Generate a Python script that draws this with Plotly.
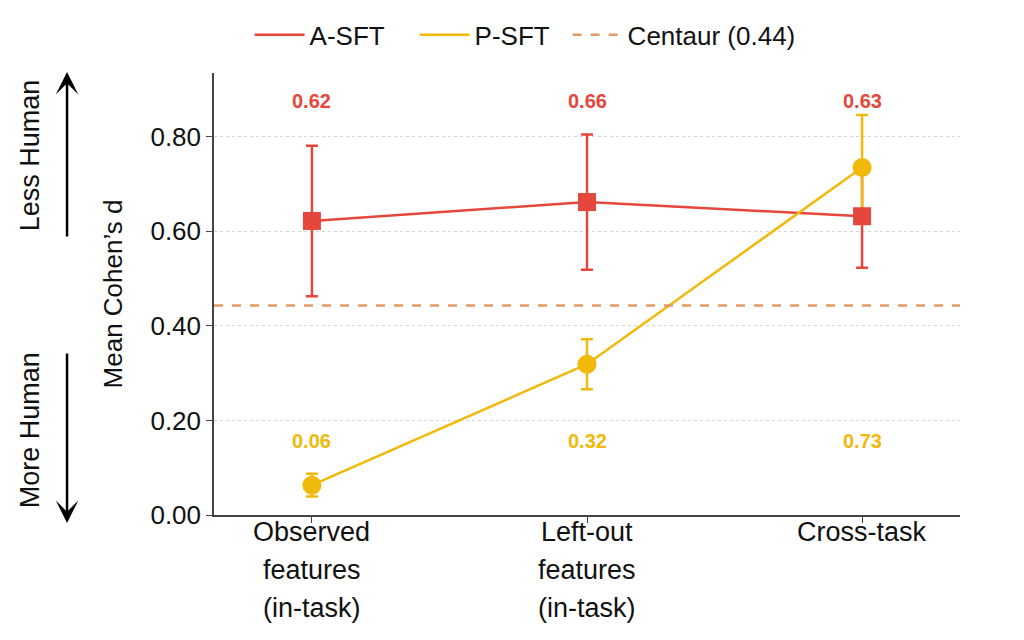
import plotly.graph_objects as go

categories = ['Observed features (in-task)', 'Left-out features (in-task)', 'Cross-task']
cat_lines = [['Observed', 'features', '(in-task)'], ['Left-out', 'features', '(in-task)'], ['Cross-task']]

a_sft = [0.622, 0.662, 0.632]
a_sft_err = [0.159, 0.143, 0.109]
p_sft = [0.063, 0.319, 0.735]
p_sft_err = [0.024, 0.053, 0.111]
centaur = 0.443

a_labels = ['0.62', '0.66', '0.63']
p_labels = ['0.06', '0.32', '0.73']

RED = '#E5473C'
YEL = '#F0B90B'
ORA = '#E39A66'
FONT = 'Liberation Sans'
TXT = '#111111'

xs = list(range(len(categories)))

fig = go.Figure()
# A-SFT line + error bars (markers re-drawn on top later)
fig.add_trace(go.Scatter(
    x=xs, y=a_sft, name='A-SFT', mode='lines',
    line=dict(color=RED, width=2.5),
    error_y=dict(type='data', array=a_sft_err, color=RED, thickness=2.5, width=6),
    showlegend=False,
))
fig.add_trace(go.Scatter(
    x=xs, y=p_sft, name='P-SFT', mode='lines+markers',
    line=dict(color=YEL, width=2.5),
    marker=dict(symbol='circle', size=19, color=YEL),
    error_y=dict(type='data', array=p_sft_err, color=YEL, thickness=2.5, width=6),
    showlegend=False,
))
fig.add_trace(go.Scatter(
    x=xs, y=a_sft, name='A-SFT', mode='markers',
    marker=dict(symbol='square', size=18, color=RED),
    showlegend=False,
))
fig.add_trace(go.Scatter(
    x=[-0.356, 2.356], y=[centaur, centaur], mode='lines', name='Centaur',
    line=dict(color=ORA, width=2.5, dash='dash'), showlegend=False,
))

# legend entries (line-only samples)
fig.add_trace(go.Scatter(x=[None], y=[None], mode='lines', name='A-SFT', legendwidth=100,
                         line=dict(color=RED, width=2.5)))
fig.add_trace(go.Scatter(x=[None], y=[None], mode='lines', name='P-SFT', legendwidth=88,
                         line=dict(color=YEL, width=2.5)))
fig.add_trace(go.Scatter(x=[None], y=[None], mode='lines', name='Centaur (%.2f)' % centaur,
                         line=dict(color=ORA, width=2.5, dash='dash')))

annotations = []
for i in xs:
    annotations.append(dict(x=i, y=0.876, xref='x', yref='y', text='<b>%s</b>' % a_labels[i],
                            showarrow=False, font=dict(family=FONT, size=20, color=RED)))
    annotations.append(dict(x=i, y=0.157, xref='x', yref='y', text='<b>%s</b>' % p_labels[i],
                            showarrow=False, font=dict(family=FONT, size=20, color=YEL)))
    for j, line in enumerate(cat_lines[i]):
        annotations.append(dict(x=i, y=0.0 - j * 0.086, xref='x', yref='paper', text=line,
                                showarrow=False, yanchor='top',
                                font=dict(family=FONT, size=27, color=TXT)))

# side arrows
annotations.append(dict(x=-0.197, y=1.002, ax=0, ay=166, xref='paper', yref='paper',
                        showarrow=True, arrowhead=3, arrowsize=1.5,
                        arrowwidth=2.5, arrowcolor='black', text=''))
annotations.append(dict(x=-0.197, y=-0.018, ax=0, ay=-171, xref='paper', yref='paper',
                        showarrow=True, arrowhead=3, arrowsize=1.5,
                        arrowwidth=2.5, arrowcolor='black', text=''))
annotations.append(dict(text='Less Human', x=-0.2466, y=0.814, xref='paper', yref='paper',
                        xanchor='center', yanchor='middle', textangle=-90,
                        showarrow=False, font=dict(family=FONT, size=27, color=TXT)))
annotations.append(dict(text='More Human', x=-0.2466, y=0.192, xref='paper', yref='paper',
                        xanchor='center', yanchor='middle', textangle=-90,
                        showarrow=False, font=dict(family=FONT, size=27, color=TXT)))

fig.update_layout(
    width=1024, height=640,
    margin=dict(l=206, r=72, t=65, b=133),
    paper_bgcolor='white', plot_bgcolor='white',
    font=dict(family=FONT, size=26, color=TXT),
    legend=dict(orientation='h', x=0.505, y=0.958, yref='container', xref='container',
                xanchor='center', yanchor='middle',
                font=dict(family=FONT, size=26), itemwidth=50, traceorder='normal'),
    annotations=annotations,
    xaxis=dict(range=[-0.356, 2.356], tickvals=xs, ticktext=['', '', ''], showgrid=False,
               showline=True, linecolor='#444', linewidth=1.5, ticks='outside', ticklen=6,
               tickcolor='#444', zeroline=False),
    yaxis=dict(range=[0, 0.935], tickvals=[0, 0.2, 0.4, 0.6, 0.8], tickformat='.2f',
               showgrid=True, gridcolor='#d4d4d4', griddash='dot', gridwidth=1,
               showline=True, linecolor='#444', linewidth=1.5, ticks='outside', ticklen=6,
               tickcolor='#444', zeroline=False, tickfont=dict(size=26),
               title=dict(text='Mean Cohen’s d', font=dict(size=26), standoff=20)),
)

fig.write_html('out.html')
